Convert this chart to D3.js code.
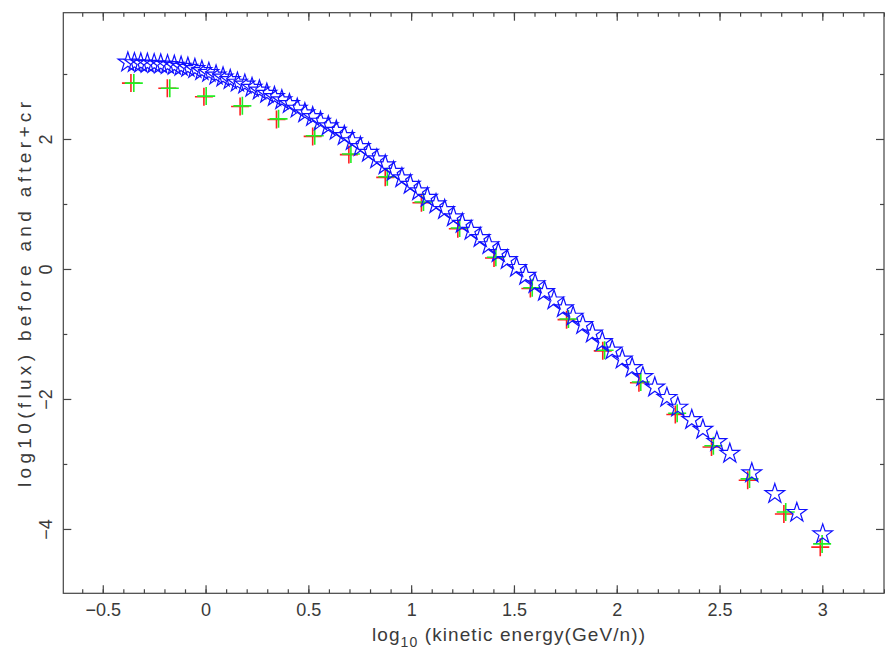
<!DOCTYPE html>
<html>
<head>
<meta charset="utf-8">
<script src="https://cdn.jsdelivr.net/npm/d3@7/dist/d3.min.js"></script>
<style>
body { margin: 0; background: #fff; }
text { font-family: "Liberation Sans", Arial, sans-serif; fill: #3a3a3a; }
</style>
</head>
<body>
<div id="chart"></div>
<script>
// log10 kinetic energy of the measured points (red = before, green = after)
var beforeX = [-0.363, -0.186, -0.008, 0.168, 0.345, 0.521, 0.697, 0.874, 1.050, 1.227,
               1.403, 1.580, 1.756, 1.932, 2.108, 2.285, 2.461, 2.637, 2.813, 2.990];
var beforeY = [2.86, 2.78, 2.65, 2.50, 2.30, 2.04, 1.76, 1.41, 1.02, 0.62,
               0.17, -0.30, -0.78, -1.26, -1.75, -2.24, -2.74, -3.25, -3.77, -4.28];
var afterX = [-0.349, -0.174, 0.003, 0.179, 0.355, 0.531, 0.707, 0.884, 1.060, 1.236,
              1.412, 1.589, 1.765, 1.941, 2.117, 2.294, 2.470, 2.646, 2.822, 2.999];
var afterY = [2.86, 2.78, 2.66, 2.51, 2.31, 2.05, 1.77, 1.42, 1.03, 0.63,
              0.18, -0.29, -0.77, -1.25, -1.74, -2.22, -2.72, -3.23, -3.74, -4.23];

// cr curve (blue stars)
var crX = [-0.378, -0.346, -0.315, -0.283, -0.250, -0.218, -0.185, -0.152, -0.119, -0.086,
           -0.052, -0.018, 0.016, 0.051, 0.085, 0.120, 0.155, 0.191, 0.226, 0.262,
           0.298, 0.335, 0.371, 0.408, 0.446, 0.483, 0.521, 0.559, 0.597, 0.636,
           0.675, 0.714, 0.753, 0.793, 0.833, 0.874, 0.914, 0.955, 0.996, 1.037,
           1.079, 1.121, 1.163, 1.206, 1.249, 1.292, 1.336, 1.379, 1.424, 1.468,
           1.513, 1.558, 1.603, 1.649, 1.695, 1.741, 1.788, 1.835, 1.882, 1.930,
           1.978, 2.027, 2.075, 2.127, 2.185, 2.244, 2.297, 2.365, 2.419, 2.487,
           2.550, 2.657, 2.769, 2.876, 3.002];
var crY = [3.18, 3.17, 3.165, 3.16, 3.155, 3.15, 3.14, 3.13, 3.115, 3.10,
           3.08, 3.05, 3.02, 2.98, 2.95, 2.91, 2.87, 2.84, 2.79, 2.75,
           2.70, 2.65, 2.60, 2.54, 2.47, 2.40, 2.34, 2.27, 2.20, 2.13,
           2.05, 1.97, 1.88, 1.79, 1.69, 1.60, 1.50, 1.40, 1.30, 1.20,
           1.10, 1.00, 0.91, 0.80, 0.70, 0.59, 0.48, 0.37, 0.25, 0.14,
           0.02, -0.10, -0.23, -0.35, -0.48, -0.60, -0.73, -0.86, -0.99, -1.12,
           -1.25, -1.39, -1.52, -1.66, -1.82, -1.98, -2.13, -2.32, -2.47, -2.66,
           -2.84, -3.14, -3.46, -3.75, -4.08];

// tick values
var xTicks = [-0.5, 0, 0.5, 1, 1.5, 2, 2.5, 3];
var yTicks = [-4, -2, 0, 2];
var xMinorTicks = d3.range(-6, 34).map(function(i) { return i / 10; });
var yMinorTicks = [-3, -1, 1, 3];

var margin = {top: 12.7, right: 1, bottom: 56.7, left: 63.3};
var width = 885 - margin.left - margin.right;
var height = 650 - margin.top - margin.bottom;

var x = d3.scaleLinear().domain([-0.692, 3.3]).range([0, width]);
var y = d3.scaleLinear().domain([-4.99, 3.943]).range([height, 0]);

var fmt = function(d) { return (d < 0 ? "\u2212" : "") + Math.abs(d); };

var svg = d3.select("#chart").append("svg")
    .attr("width", 885)
    .attr("height", 650)
    .append("g")
    .attr("transform", "translate(" + margin.left + "," + margin.top + ")");

function zip(xs, ys) {
    return xs.map(function(v, i) { return {x: v, y: ys[i]}; });
}

// measured points: red under green
var cross = "M-9,0H9M0,-9V9";
svg.selectAll(".before")
    .data(zip(beforeX, beforeY))
    .enter().append("path")
    .attr("class", "before")
    .attr("d", cross)
    .attr("transform", function(d) { return "translate(" + x(d.x) + "," + y(d.y) + ")"; })
    .attr("stroke", "#ff2020")
    .attr("stroke-width", 1.6)
    .attr("fill", "none");

svg.selectAll(".after")
    .data(zip(afterX, afterY))
    .enter().append("path")
    .attr("class", "after")
    .attr("d", cross)
    .attr("transform", function(d) { return "translate(" + x(d.x) + "," + y(d.y) + ")"; })
    .attr("stroke", "#22ee22")
    .attr("stroke-width", 1.6)
    .attr("fill", "none");

// stars
var star = d3.symbol().type(d3.symbolStar).size(119);
svg.selectAll(".cr")
    .data(zip(crX, crY))
    .enter().append("path")
    .attr("class", "cr")
    .attr("d", star)
    .attr("transform", function(d) { return "translate(" + x(d.x) + "," + y(d.y) + ")"; })
    .attr("stroke", "#1010ff")
    .attr("stroke-width", 1.2)
    .attr("fill", "none");

// frame
svg.append("rect")
    .attr("width", width)
    .attr("height", height)
    .attr("fill", "none")
    .attr("stroke", "#444")
    .attr("stroke-width", 1.2);

// ticks on all sides, pointing inward
function tickAxis(axis, vals, size, labels, pad) {
    return axis.tickValues(vals).tickSize(-size).tickSizeOuter(0)
        .tickPadding(pad || 3)
        .tickFormat(labels ? fmt : "");
}

var gBottom = svg.append("g").attr("transform", "translate(0," + height + ")");
gBottom.append("g").call(tickAxis(d3.axisBottom(x), xMinorTicks, 4));
gBottom.append("g").call(tickAxis(d3.axisBottom(x), xTicks, 8, true, 10));

var gTop = svg.append("g");
gTop.append("g").call(tickAxis(d3.axisTop(x), xMinorTicks, 4));
gTop.append("g").call(tickAxis(d3.axisTop(x), xTicks, 8));

var gLeft = svg.append("g");
gLeft.append("g").call(tickAxis(d3.axisLeft(y), yMinorTicks, 4));
gLeft.append("g").call(tickAxis(d3.axisLeft(y), yTicks, 8, true, 10));

var gRight = svg.append("g").attr("transform", "translate(" + width + ",0)");
gRight.append("g").call(tickAxis(d3.axisRight(y), yMinorTicks, 4));
gRight.append("g").call(tickAxis(d3.axisRight(y), yTicks, 8));

svg.selectAll(".domain").remove();
svg.selectAll(".tick line").attr("stroke", "#444").attr("stroke-width", 1.2);
svg.selectAll(".tick text").style("font-size", "18px").attr("fill", "#3a3a3a");

// y tick labels stand vertical
gLeft.selectAll(".tick text")
    .attr("x", null).attr("dy", null)
    .attr("text-anchor", "middle")
    .attr("transform", "translate(-11,0) rotate(-90)");

// axis titles, spread to the width seen in the original
var xTitle = svg.append("text")
    .attr("x", 372 - margin.left)
    .attr("y", 641 - margin.top)
    .attr("textLength", 273)
    .attr("lengthAdjust", "spacing")
    .style("font-size", "19px");
xTitle.append("tspan").text("log");
xTitle.append("tspan").attr("dy", 6).style("font-size", "14px").text("10");
xTitle.append("tspan").attr("dy", -6).text(" (kinetic energy(GeV/n))");

svg.append("text")
    .attr("transform", "translate(" + (31 - margin.left) + "," + (487 - margin.top) + ") rotate(-90)")
    .attr("textLength", 385)
    .attr("lengthAdjust", "spacing")
    .style("font-size", "19px")
    .text("log10(flux) before and after+cr");
</script>
</body>
</html>
